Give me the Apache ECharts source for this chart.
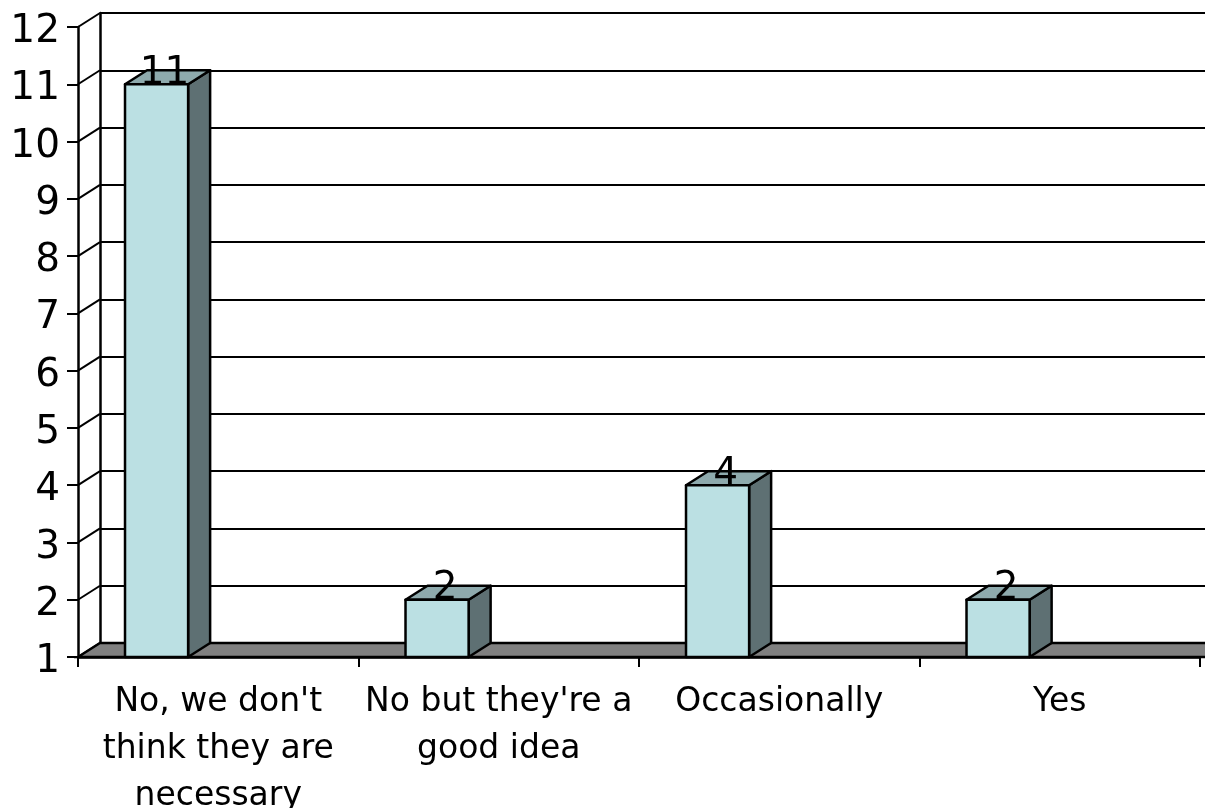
<!DOCTYPE html>
<html>
<head>
<meta charset="utf-8">
<script src="https://cdn.jsdelivr.net/npm/echarts@6/dist/echarts.min.js"></script>
<style>
  html, body { margin: 0; padding: 0; background: #fff; }
  #chart { width: 1205px; height: 808px; }
</style>
</head>
<body>
<div id="chart"></div>
<script>
// Survey answers and their counts
const categories = [
  "No, we don't\nthink they are\nnecessary",
  "No but they're a\ngood idea",
  "Occasionally",
  "Yes"
];
const counts = [11, 2, 4, 2];

// Value axis range and tick labels
const axisMin = 1;
const axisMax = 12;
const axisStep = 1;
const tickValues = [1, 2, 3, 4, 5, 6, 7, 8, 9, 10, 11, 12];

// 3D depth offset for the floor, walls and bars
const DX = 22, DY = 14;
const FONT = '"DejaVu Sans", Verdana, sans-serif';

const chart = echarts.init(document.getElementById('chart'), null, { renderer: 'canvas' });

const option = {
  animation: false,
  backgroundColor: '#ffffff',
  grid: [
    // front plane
    { left: 78, right: 5, top: 27, bottom: 151, outerBoundsMode: 'none', containLabel: false },
    // back wall
    { left: 78 + DX, right: 0, top: 27 - DY, bottom: 151 + DY, outerBoundsMode: 'none', containLabel: false }
  ],
  xAxis: [
    {
      gridIndex: 0,
      type: 'category',
      data: categories,
      boundaryGap: true,
      axisLine: { show: true, lineStyle: { color: '#000', width: 2.5 } },
      axisTick: { show: true, length: 10, lineStyle: { color: '#000', width: 2 } },
      axisLabel: {
        color: '#000', fontFamily: FONT, fontSize: 33, lineHeight: 47,
        margin: 22, interval: 0
      },
      splitLine: { show: false },
      z: 5
    },
    {
      gridIndex: 1,
      type: 'category',
      data: categories,
      show: false
    }
  ],
  yAxis: [
    {
      gridIndex: 0,
      type: 'value',
      min: axisMin, max: axisMax, interval: axisStep,
      axisLine: { show: true, lineStyle: { color: '#000', width: 2.5 } },
      axisTick: { show: true, length: 11, lineStyle: { color: '#000', width: 2 } },
      axisLabel: {
        margin: 18,
        formatter: function (v) { return '{t|' + v + '}'; },
        rich: {
          t: { color: '#000', fontFamily: FONT, fontSize: 39, padding: [10, 0, 0, 0] }
        }
      },
      splitLine: { show: false },
      z: 5
    },
    {
      gridIndex: 1,
      type: 'value',
      min: axisMin, max: axisMax, interval: axisStep,
      axisLine: { show: true, lineStyle: { color: '#000', width: 2.5 } },
      axisTick: { show: false },
      axisLabel: { show: false },
      splitLine: { show: true, lineStyle: { color: '#000', width: 2 } }
    }
  ],
  series: [
    // side-wall connectors from each front tick to the back wall
    {
      type: 'custom',
      xAxisIndex: 0, yAxisIndex: 0,
      data: tickValues.map(v => [0, v]),
      z: 2,
      silent: true,
      renderItem: function (params, api) {
        const cs = params.coordSys;
        const y = api.coord([0, api.value(1)])[1];
        return {
          type: 'line',
          shape: { x1: cs.x, y1: y, x2: cs.x + DX, y2: y - DY },
          style: { stroke: '#000', lineWidth: 2 }
        };
      }
    },
    // floor
    {
      type: 'custom',
      xAxisIndex: 0, yAxisIndex: 0,
      data: [[0, axisMin]],
      z: 3,
      silent: true,
      renderItem: function (params, api) {
        const cs = params.coordSys;
        const y = api.coord([0, axisMin])[1];
        const xr = cs.x + cs.width + 10;
        return {
          type: 'polygon',
          shape: { points: [[cs.x, y], [cs.x + DX, y - DY], [xr + DX, y - DY], [xr, y]] },
          style: { fill: '#808080', stroke: '#000', lineWidth: 2.5 }
        };
      }
    },
    // bars
    {
      type: 'custom',
      xAxisIndex: 0, yAxisIndex: 0,
      data: counts.map((v, i) => [i, v]),
      z: 4,
      renderItem: function (params, api) {
        const idx = api.value(0);
        const val = api.value(1);
        const top = api.coord([idx, val]);
        const base = api.coord([idx, axisMin]);
        const band = api.size([1, 0])[0];
        const w = band * 0.225;
        const x0 = top[0] - band * 0.3324;
        const yt = top[1], yb = base[1];
        const line = { stroke: '#000', lineWidth: 2.5, lineJoin: 'round' };
        return {
          type: 'group',
          children: [
            {
              type: 'polygon',
              shape: { points: [[x0 + w, yt], [x0 + w + DX, yt - DY], [x0 + w + DX, yb - DY], [x0 + w, yb]] },
              style: Object.assign({ fill: '#5E7073' }, line)
            },
            {
              type: 'polygon',
              shape: { points: [[x0, yt], [x0 + DX, yt - DY], [x0 + w + DX, yt - DY], [x0 + w, yt]] },
              style: Object.assign({ fill: '#8EAAAD' }, line)
            },
            {
              type: 'rect',
              shape: { x: x0, y: yt, width: w, height: yb - yt },
              style: Object.assign({ fill: '#BBE0E3' }, line)
            },
            {
              type: 'text',
              x: x0 + w / 2 + 8,
              y: yt + 9,
              style: {
                text: String(val),
                fill: '#000',
                font: '39px ' + FONT,
                textAlign: 'center',
                textVerticalAlign: 'bottom'
              }
            }
          ]
        };
      }
    }
  ]
};

chart.setOption(option);
</script>
</body>
</html>
